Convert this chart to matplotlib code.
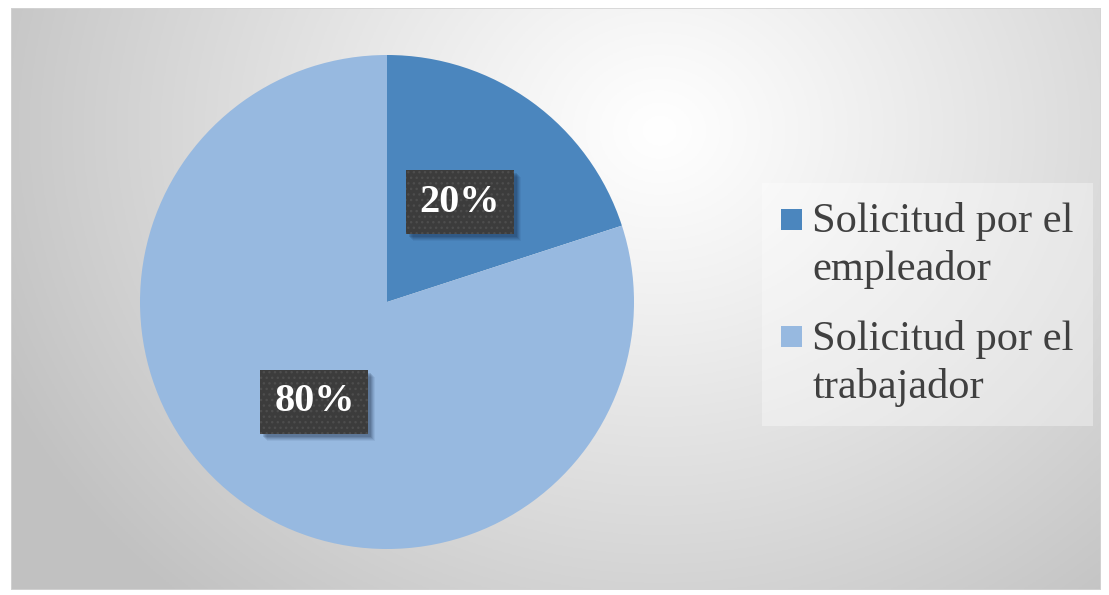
import numpy as np
import matplotlib
matplotlib.use("Agg")
import matplotlib.pyplot as plt
from matplotlib.patches import Rectangle, Patch
from matplotlib.legend_handler import HandlerPatch

# ---- data ----
categories = ["Solicitud por el\nempleador", "Solicitud por el\ntrabajador"]
values = [20, 80]
colors = ["#4b86be", "#97b9e0"]

W, H, DPI = 1109, 595, 100
fig = plt.figure(figsize=(W / DPI, H / DPI), dpi=DPI)
fig.patch.set_facecolor("white")

# ---- background panel with radial gradient ----
x0, y0, x1, y1 = 11, 8, 1101, 590  # pixel frame (top-left origin)
bg = fig.add_axes([x0 / W, 1 - y1 / H, (x1 - x0) / W, (y1 - y0) / H])
bg.set_axis_off()
nx, ny = 400, 220
xx, yy = np.meshgrid(np.linspace(x0, x1, nx), np.linspace(y0, y1, ny))
cx, cy = 660, 130
d = np.hypot((xx - cx) * 1.0, (yy - cy) * 1.15)
v = 1.0 - 0.24 * np.clip(d / 720, 0, 1.2) ** 1.1
v = np.clip(v, 0.76, 1.0)
bg.imshow(np.dstack([v, v, v]), extent=[0, 1, 0, 1], aspect="auto", origin="upper")
bg.add_patch(Rectangle((0, 0), 1, 1, transform=bg.transAxes, fill=False,
                       edgecolor="#d4d4d4", lw=1.2))
bg.set_xlim(0, 1)
bg.set_ylim(0, 1)

# ---- pie ----
pcx, pcy, R = 387, 302, 247
ax = fig.add_axes([(pcx - R) / W, 1 - (pcy + R) / H, 2 * R / W, 2 * R / H])
wedges, texts, autotexts = ax.pie(
    values, colors=colors, startangle=90, counterclock=False,
    autopct="%d%%", pctdistance=0.5,
    wedgeprops=dict(linewidth=0),
    textprops=dict(color="white", fontsize=29, fontweight="bold",
                   family=["Liberation Serif", "DejaVu Serif"]))
ax.set_xlim(-1, 1)
ax.set_ylim(-1, 1)
ax.set_aspect("auto")

for t in autotexts:
    t.set_zorder(5)
    t.set_bbox(dict(boxstyle="square,pad=0.34", facecolor="#3c3c3c",
                    edgecolor="#4d4d4d", linewidth=0, hatch="..."))

# soft drop shadows behind the label boxes, derived from the drawn boxes
fig.canvas.draw()
for t in autotexts:
    ext = t.get_bbox_patch().get_window_extent()
    for o, a in [(7, 0.06), (6, 0.08), (5, 0.10), (4, 0.12), (3, 0.14)]:
        ax.add_artist(Rectangle((ext.x0 + o, ext.y0 - o), ext.width, ext.height,
                                transform=None, facecolor="#0e1e36", alpha=a,
                                edgecolor="none", zorder=4))

# ---- legend ----
FS = 30.5
SQ = 0.5  # square size in font-size units


def top_square(legend, orig_handle, xdescent, ydescent, width, height, fontsize):
    s = SQ * fontsize
    return Rectangle((-xdescent, -ydescent + height - s + 0.04 * fontsize), s, s)


handles = [Patch(facecolor=c, edgecolor="none") for c in colors]
leg = fig.legend(handles, categories, loc="upper left",
                 bbox_to_anchor=(762 / W, 1 - 183 / H),
                 prop=dict(family=["Liberation Serif", "DejaVu Serif"], size=FS),
                 frameon=True, fancybox=False, handlelength=SQ, handleheight=2.3,
                 handletextpad=0.24, labelspacing=0.72, borderpad=0.45,
                 borderaxespad=0,
                 handler_map={Patch: HandlerPatch(patch_func=top_square)})
leg.get_frame().set_facecolor("white")
leg.get_frame().set_alpha(0.35)
leg.get_frame().set_edgecolor("none")
for txt in leg.get_texts():
    txt.set_color("#404040")
    txt.set_linespacing(1.3)

fig.savefig("out.png", dpi=DPI, facecolor="white")
